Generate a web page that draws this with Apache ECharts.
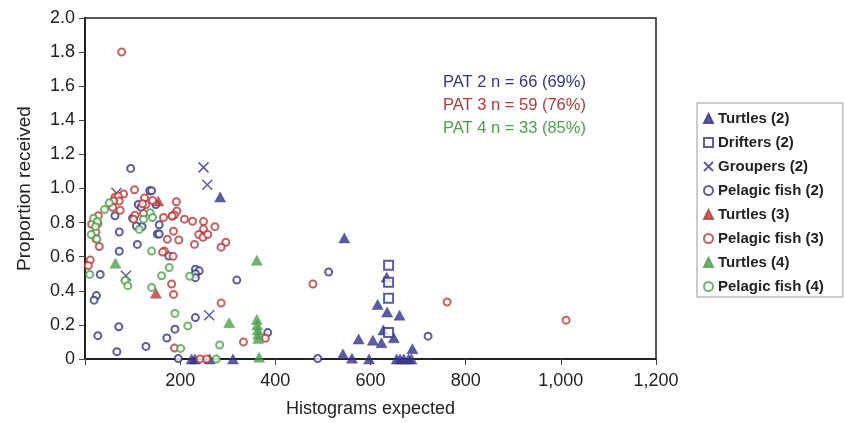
<!DOCTYPE html>
<html>
<head>
<meta charset="utf-8">
<script src="https://cdn.jsdelivr.net/npm/echarts@6/dist/echarts.min.js"></script>
<style>
  html, body { margin: 0; padding: 0; background: #ffffff; }
  #chart { width: 845px; height: 423px; }
</style>
</head>
<body>
<div id="chart"></div>
<script>
// [histograms expected, proportion received]
const turtles2 = [
  [284, 0.95], [545, 0.71], [634, 0.48], [615, 0.32], [635, 0.275], [661, 0.257],
  [627, 0.17], [649, 0.124], [575, 0.117], [605, 0.11], [623, 0.095], [542, 0.03],
  [561, 0.005], [597, 0.0], [688, 0.06], [655, 0.0], [662, 0.0], [670, 0.0],
  [680, 0.0], [686, 0.0], [224, 0.0], [231, 0.0], [262, 0.0], [311, 0.0]
];
const drifters2 = [[638, 0.55], [638, 0.45], [638, 0.357], [638, 0.155]];
const groupers2 = [[249, 1.124], [257, 1.022], [66, 0.974], [86, 0.488], [261, 0.257]];
const pelagic2 = [
  [96, 1.118], [136, 0.987], [140, 0.987], [65, 0.945], [112, 0.906], [118, 0.89],
  [149, 0.906], [63, 0.84], [100, 0.826], [108, 0.78], [120, 0.776], [156, 0.787],
  [152, 0.733], [156, 0.733], [72, 0.745], [110, 0.672], [72, 0.632], [184, 0.839],
  [176, 0.604], [32, 0.496], [232, 0.527], [240, 0.517], [232, 0.5], [232, 0.477],
  [319, 0.463], [24, 0.372], [19, 0.345], [71, 0.189], [27, 0.137], [67, 0.043],
  [128, 0.074], [172, 0.123], [189, 0.175], [232, 0.243], [196, 0.003], [384, 0.155],
  [512, 0.51], [721, 0.134], [489, 0.003]
];
const turtles3 = [[154, 0.926], [149, 0.386]];
const pelagic3 = [
  [77, 1.80], [104, 0.993], [81, 0.968], [63, 0.949], [70, 0.955], [72, 0.926],
  [60, 0.926], [74, 0.872], [58, 0.89], [125, 0.945], [142, 0.93], [192, 0.922],
  [193, 0.868], [188, 0.845], [183, 0.839], [165, 0.83], [105, 0.843], [102, 0.82],
  [123, 0.853], [209, 0.82], [226, 0.808], [249, 0.806], [273, 0.776], [249, 0.762],
  [239, 0.73], [248, 0.714], [258, 0.73], [186, 0.75], [173, 0.702], [197, 0.698],
  [230, 0.672], [296, 0.685], [286, 0.656], [23, 0.743], [23, 0.704], [30, 0.66],
  [14, 0.79], [27, 0.795], [11, 0.58], [7, 0.548], [167, 0.633], [185, 0.602],
  [182, 0.44], [186, 0.379], [286, 0.328], [333, 0.10], [379, 0.122], [188, 0.064],
  [242, 0.0], [256, 0.0], [479, 0.44], [761, 0.334], [1011, 0.228], [28, 0.84],
  [128, 0.906], [121, 0.91], [163, 0.627]
];
const turtles4 = [
  [64, 0.562], [361, 0.579], [303, 0.213], [361, 0.232], [362, 0.20], [363, 0.17],
  [364, 0.145], [364, 0.12], [366, 0.01]
];
const pelagic4 = [
  [51, 0.916], [41, 0.877], [18, 0.826], [26, 0.806], [22, 0.776], [13, 0.73],
  [25, 0.704], [137, 0.858], [142, 0.83], [123, 0.82], [114, 0.76], [140, 0.633],
  [10, 0.496], [84, 0.46], [90, 0.43], [140, 0.42], [161, 0.488], [177, 0.536],
  [220, 0.485], [189, 0.267], [216, 0.194], [201, 0.062], [283, 0.082], [276, 0.0]
];
const seriesNames = [
  'Turtles (2)', 'Drifters (2)', 'Groupers (2)', 'Pelagic fish (2)',
  'Turtles (3)', 'Pelagic fish (3)', 'Turtles (4)', 'Pelagic fish (4)'
];
const summaryLines = ['PAT 2 n = 66 (69%)', 'PAT 3 n = 59 (76%)', 'PAT 4 n = 33 (85%)'];

const NAVY = '#33358a';
const RED = '#b8383a';
const GREEN = '#4c9f4c';
const FONT = '"Liberation Sans", Arial, sans-serif';

const crossPath = 'path://M0,0L10,10M10,0L0,10';

function triangle(name, data, color) {
  return {
    name, type: 'scatter', data, symbol: 'triangle', symbolSize: [11, 10],
    itemStyle: { color: color, borderColor: color, borderWidth: 0.5 }
  };
}
function ring(name, data, color) {
  return {
    name, type: 'scatter', data, symbol: 'emptyCircle', symbolSize: 7,
    itemStyle: { color: color, borderColor: color, borderWidth: 1.5 }
  };
}

const chart = echarts.init(document.getElementById('chart'), null, { renderer: 'canvas' });
chart.setOption({
  animation: false,
  backgroundColor: '#ffffff',
  grid: {
    left: 85, right: 189, top: 18, bottom: 59,
    show: true, borderColor: '#222', borderWidth: 1.5, backgroundColor: 'transparent'
  },
  xAxis: {
    type: 'value', min: 0, max: 1200, interval: 200,
    name: 'Histograms expected', nameLocation: 'middle', nameGap: 41,
    nameTextStyle: { fontFamily: FONT, fontSize: 18, color: '#222' },
    axisLine: { show: true, onZero: false, lineStyle: { color: '#222', width: 2 } },
    axisTick: { show: true, inside: false, length: 6, lineStyle: { color: '#444', width: 1 } },
    axisLabel: {
      fontFamily: FONT, fontSize: 18, color: '#222', margin: 13,
      formatter: v => v === 0 ? '' : v.toLocaleString('en-US')
    },
    splitLine: { show: false }
  },
  yAxis: {
    type: 'value', min: 0, max: 2, interval: 0.2,
    name: 'Proportion received', nameLocation: 'middle', nameGap: 51,
    nameTextStyle: { fontFamily: FONT, fontSize: 19, color: '#222' },
    axisLine: { show: true, lineStyle: { color: '#222', width: 2 } },
    axisTick: { show: true, inside: false, length: 6, lineStyle: { color: '#444', width: 1 } },
    axisLabel: {
      fontFamily: FONT, fontSize: 18, color: '#222', margin: 10,
      formatter: v => v === 0 ? '0' : v.toFixed(1)
    },
    splitLine: { show: false }
  },
  legend: {
    orient: 'vertical', left: 697, top: 103,
    data: seriesNames,
    itemWidth: 9, itemHeight: 9, itemGap: 7,
    padding: [7, 19, 2, 6],
    borderColor: '#999', borderWidth: 1,
    textStyle: { fontFamily: FONT, fontSize: 15, fontWeight: 'bold', color: '#222', lineHeight: 17 }
  },
  graphic: summaryLines.map((t, i) => ({
    type: 'text', left: 443, top: 74 + i * 23,
    style: { text: t, fill: [NAVY, RED, GREEN][i], font: '16.5px ' + FONT }
  })),
  series: [
    triangle(seriesNames[0], turtles2, NAVY),
    {
      name: seriesNames[1], type: 'scatter', data: drifters2, symbol: 'emptyRect', symbolSize: 9,
      itemStyle: { color: NAVY, borderColor: NAVY, borderWidth: 1.5 }
    },
    {
      name: seriesNames[2], type: 'scatter', data: groupers2, symbol: crossPath, symbolSize: 10,
      itemStyle: { color: NAVY, borderColor: NAVY, borderWidth: 1.5 }
    },
    ring(seriesNames[3], pelagic2, NAVY),
    triangle(seriesNames[4], turtles3, RED),
    ring(seriesNames[5], pelagic3, RED),
    triangle(seriesNames[6], turtles4, GREEN),
    ring(seriesNames[7], pelagic4, GREEN)
  ]
});
</script>
</body>
</html>
